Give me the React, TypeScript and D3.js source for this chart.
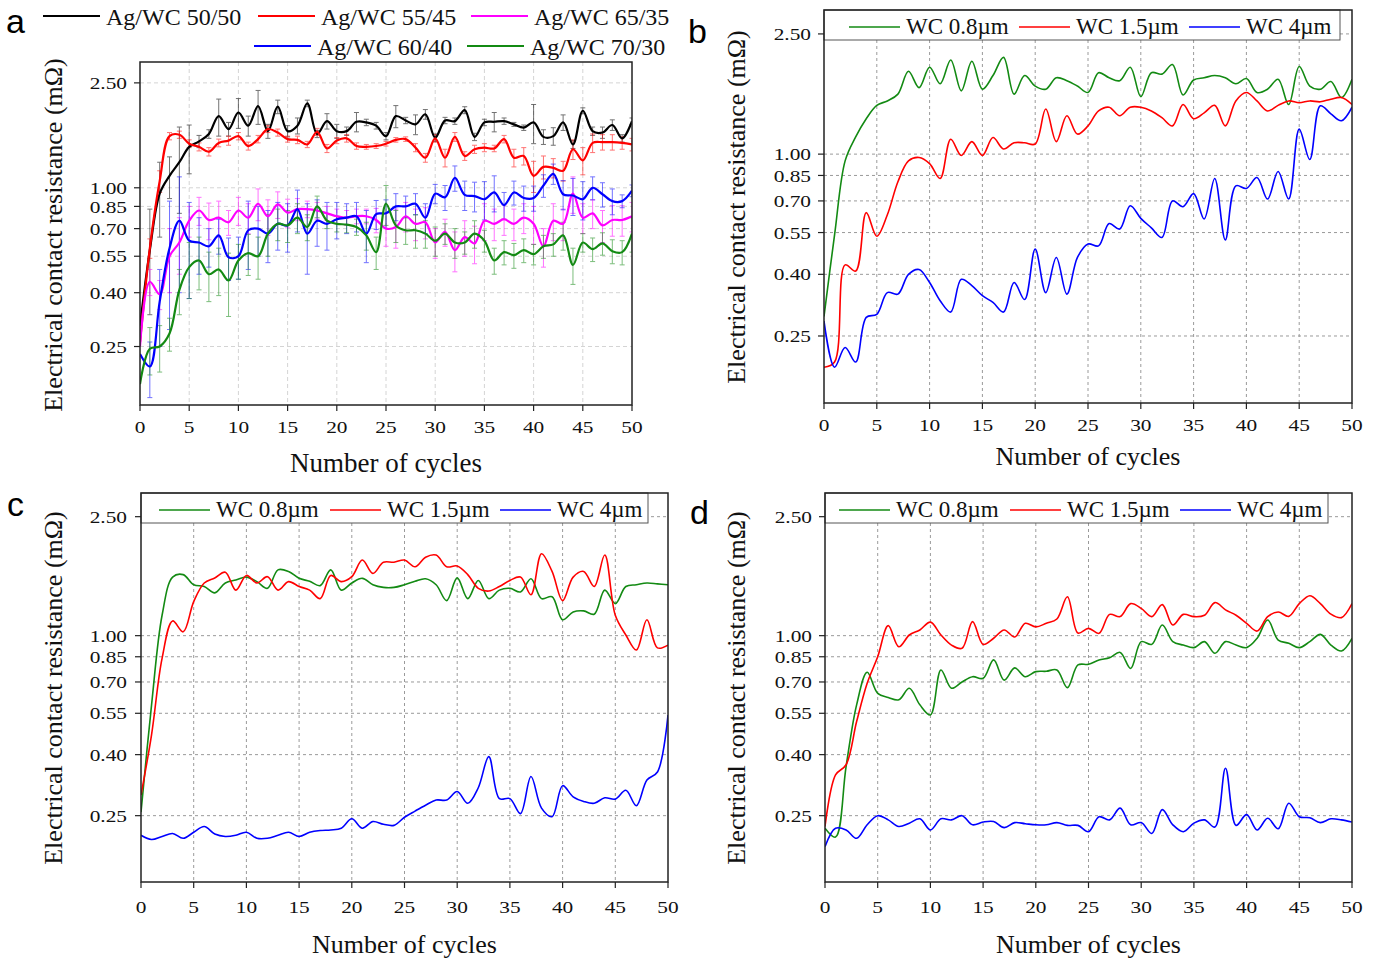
import React from 'react';
import * as d3 from 'd3';

// ---------------- data ----------------
const cycles: number[] = d3.range(0, 51);
const xTickValues = [0, 5, 10, 15, 20, 25, 30, 35, 40, 45, 50];
const yTickValues = [0.25, 0.4, 0.55, 0.7, 0.85, 1.0, 2.5];
const yDomain: [number, number] = [0.15, 3.0];
const xDomain: [number, number] = [0, 50];

const legendA = ['Ag/WC 50/50', 'Ag/WC 55/45', 'Ag/WC 65/35', 'Ag/WC 60/40', 'Ag/WC 70/30'];
const legendWC = ['WC 0.8µm', 'WC 1.5µm', 'WC 4µm'];
const xTitle = 'Number of cycles';
const yTitle = 'Electrical contact resistance (mΩ)';

// Panel a
const a5050 = [0.30, 0.58, 0.95, 1.11, 1.25, 1.43, 1.50, 1.60, 1.87, 1.67, 1.93, 1.72, 2.04, 1.64, 2.03, 1.64, 1.72, 2.09, 1.60, 1.79, 1.64, 1.64, 1.78, 1.77, 1.72, 1.57, 1.87, 1.80, 1.74, 1.90, 1.55, 1.80, 1.79, 1.97, 1.56, 1.77, 1.78, 1.79, 1.74, 1.69, 1.77, 1.56, 1.57, 1.77, 1.46, 1.96, 1.64, 1.62, 1.73, 1.54, 1.79];
const a5050Err = [0, 0.25, 0.3, 0.2, 0.45, 0.3, 0.08, 0.06, 0.3, 0.1, 0.25, 0.15, 0.3, 0.1, 0.12, 0.08, 0.12, 0.06, 0.05, 0.12, 0.1, 0.06, 0.15, 0.05, 0.05, 0.05, 0.18, 0.05, 0.15, 0.08, 0.05, 0.05, 0.05, 0.06, 0.05, 0.05, 0.15, 0.05, 0.03, 0.04, 0.3, 0.1, 0.12, 0.12, 0.05, 0.05, 0.06, 0.08, 0.08, 0.05, 0.05];
const a5545 = [0.26, 0.59, 1.06, 1.57, 1.59, 1.47, 1.43, 1.37, 1.48, 1.51, 1.57, 1.44, 1.53, 1.67, 1.62, 1.53, 1.52, 1.46, 1.63, 1.41, 1.51, 1.54, 1.44, 1.43, 1.44, 1.47, 1.52, 1.53, 1.42, 1.30, 1.54, 1.30, 1.56, 1.32, 1.40, 1.42, 1.41, 1.53, 1.30, 1.32, 1.11, 1.20, 1.19, 1.16, 1.40, 1.27, 1.48, 1.49, 1.49, 1.48, 1.46];
const a5545Err = [0, 0.05, 0.1, 0.05, 0.05, 0.05, 0.05, 0.05, 0.05, 0.06, 0.05, 0.05, 0.05, 0.05, 0.05, 0.04, 0.05, 0.04, 0.05, 0.05, 0.04, 0.05, 0.04, 0.03, 0.03, 0.03, 0.03, 0.03, 0.05, 0.05, 0.05, 0.1, 0.06, 0.05, 0.05, 0.05, 0.04, 0.05, 0.1, 0.1, 0.15, 0.12, 0.1, 0.1, 0.12, 0.15, 0.12, 0.1, 0.1, 0.08, 0.08];
const a6535 = [0.25, 0.44, 0.395, 0.55, 0.62, 0.75, 0.82, 0.755, 0.77, 0.74, 0.82, 0.77, 0.87, 0.78, 0.865, 0.805, 0.83, 0.83, 0.82, 0.80, 0.78, 0.77, 0.78, 0.78, 0.755, 0.70, 0.71, 0.78, 0.73, 0.74, 0.62, 0.68, 0.58, 0.65, 0.615, 0.75, 0.73, 0.76, 0.73, 0.77, 0.73, 0.60, 0.75, 0.73, 0.95, 0.77, 0.80, 0.72, 0.755, 0.755, 0.78];
const a6535Err = [0, 0.05, 0.05, 0.15, 0.15, 0.1, 0.1, 0.12, 0.12, 0.08, 0.1, 0.1, 0.12, 0.12, 0.1, 0.1, 0.08, 0.06, 0.06, 0.05, 0.05, 0.05, 0.05, 0.05, 0.08, 0.1, 0.12, 0.1, 0.1, 0.1, 0.08, 0.08, 0.1, 0.1, 0.1, 0.12, 0.1, 0.1, 0.1, 0.1, 0.12, 0.1, 0.12, 0.1, 0.15, 0.1, 0.1, 0.1, 0.1, 0.1, 0.1];
const a6040 = [0.234, 0.21, 0.37, 0.59, 0.75, 0.63, 0.62, 0.60, 0.66, 0.545, 0.55, 0.69, 0.70, 0.67, 0.73, 0.72, 0.83, 0.67, 0.75, 0.73, 0.76, 0.77, 0.78, 0.67, 0.795, 0.80, 0.85, 0.85, 0.87, 0.77, 0.95, 0.92, 1.09, 0.94, 0.93, 0.905, 0.96, 0.86, 0.96, 0.915, 0.915, 1.02, 1.13, 0.945, 0.935, 0.905, 1.00, 0.945, 0.89, 0.89, 0.975];
const a6040Err = [0, 0.05, 0.12, 0.3, 0.35, 0.25, 0.15, 0.1, 0.1, 0.1, 0.1, 0.2, 0.15, 0.15, 0.15, 0.15, 0.15, 0.2, 0.15, 0.15, 0.12, 0.1, 0.1, 0.15, 0.1, 0.1, 0.1, 0.08, 0.08, 0.1, 0.08, 0.1, 0.12, 0.12, 0.12, 0.15, 0.15, 0.1, 0.1, 0.1, 0.1, 0.1, 0.1, 0.12, 0.15, 0.15, 0.1, 0.1, 0.1, 0.05, 0.05];
const a7030 = [0.18, 0.245, 0.25, 0.28, 0.41, 0.50, 0.53, 0.47, 0.49, 0.445, 0.53, 0.565, 0.55, 0.67, 0.73, 0.72, 0.77, 0.71, 0.85, 0.75, 0.73, 0.725, 0.71, 0.66, 0.57, 0.87, 0.72, 0.69, 0.69, 0.67, 0.63, 0.67, 0.62, 0.62, 0.67, 0.63, 0.53, 0.57, 0.555, 0.58, 0.56, 0.60, 0.61, 0.66, 0.51, 0.62, 0.585, 0.615, 0.575, 0.57, 0.67];
const a7030Err = [0, 0.05, 0.05, 0.04, 0.08, 0.12, 0.12, 0.1, 0.1, 0.12, 0.08, 0.1, 0.1, 0.12, 0.1, 0.1, 0.1, 0.08, 0.08, 0.05, 0.05, 0.05, 0.05, 0.08, 0.08, 0.15, 0.1, 0.08, 0.1, 0.08, 0.08, 0.06, 0.08, 0.06, 0.08, 0.06, 0.06, 0.06, 0.06, 0.06, 0.05, 0.06, 0.06, 0.08, 0.08, 0.05, 0.06, 0.06, 0.06, 0.06, 0.1];

// Panel b
const bWC08 = [0.29, 0.54, 0.95, 1.14, 1.31, 1.45, 1.50, 1.58, 1.88, 1.66, 1.94, 1.71, 2.05, 1.62, 2.03, 1.64, 1.82, 2.09, 1.58, 1.82, 1.68, 1.64, 1.79, 1.75, 1.68, 1.60, 1.86, 1.79, 1.75, 1.94, 1.55, 1.86, 1.84, 1.98, 1.57, 1.76, 1.79, 1.82, 1.79, 1.71, 1.78, 1.60, 1.64, 1.77, 1.46, 1.95, 1.68, 1.64, 1.74, 1.54, 1.77];
const bWC15 = [0.197, 0.205, 0.43, 0.41, 0.64, 0.535, 0.63, 0.81, 0.95, 0.975, 0.93, 0.83, 1.12, 0.99, 1.10, 0.99, 1.135, 1.04, 1.09, 1.09, 1.08, 1.41, 1.10, 1.34, 1.165, 1.24, 1.39, 1.43, 1.34, 1.43, 1.43, 1.39, 1.32, 1.24, 1.46, 1.31, 1.37, 1.45, 1.24, 1.50, 1.60, 1.50, 1.39, 1.45, 1.50, 1.48, 1.50, 1.49, 1.52, 1.54, 1.46];
const bWC4 = [0.28, 0.197, 0.229, 0.205, 0.288, 0.295, 0.348, 0.344, 0.40, 0.415, 0.376, 0.327, 0.30, 0.385, 0.367, 0.34, 0.323, 0.30, 0.376, 0.33, 0.485, 0.348, 0.455, 0.344, 0.455, 0.504, 0.497, 0.589, 0.565, 0.675, 0.613, 0.57, 0.53, 0.70, 0.67, 0.74, 0.61, 0.83, 0.52, 0.785, 0.77, 0.837, 0.71, 0.876, 0.71, 1.21, 0.96, 1.445, 1.36, 1.29, 1.43];

// Panel c
const cWC08 = [0.257, 0.586, 1.17, 1.57, 1.60, 1.48, 1.46, 1.39, 1.50, 1.535, 1.57, 1.516, 1.44, 1.66, 1.64, 1.555, 1.52, 1.47, 1.66, 1.42, 1.50, 1.555, 1.48, 1.45, 1.45, 1.48, 1.52, 1.55, 1.48, 1.31, 1.56, 1.33, 1.53, 1.33, 1.42, 1.44, 1.40, 1.55, 1.33, 1.35, 1.13, 1.20, 1.21, 1.18, 1.42, 1.28, 1.46, 1.48, 1.50, 1.49, 1.48];
const cWC15 = [0.293, 0.466, 0.84, 1.12, 1.03, 1.30, 1.50, 1.56, 1.63, 1.42, 1.59, 1.50, 1.575, 1.42, 1.516, 1.46, 1.42, 1.33, 1.59, 1.516, 1.575, 1.79, 1.615, 1.76, 1.76, 1.79, 1.70, 1.83, 1.86, 1.70, 1.71, 1.60, 1.44, 1.41, 1.46, 1.53, 1.57, 1.37, 1.88, 1.64, 1.31, 1.57, 1.64, 1.46, 1.86, 1.17, 1.005, 0.895, 1.13, 0.91, 0.93];
const cWC4 = [0.215, 0.208, 0.213, 0.218, 0.21, 0.22, 0.23, 0.217, 0.213, 0.215, 0.22, 0.21, 0.21, 0.215, 0.22, 0.213, 0.22, 0.223, 0.224, 0.227, 0.244, 0.227, 0.239, 0.234, 0.232, 0.247, 0.259, 0.271, 0.282, 0.282, 0.301, 0.275, 0.31, 0.394, 0.285, 0.285, 0.254, 0.338, 0.265, 0.248, 0.315, 0.289, 0.279, 0.275, 0.287, 0.284, 0.304, 0.27, 0.329, 0.35, 0.543];

// Panel d
const dWC08 = [0.227, 0.212, 0.365, 0.587, 0.754, 0.641, 0.621, 0.61, 0.667, 0.587, 0.543, 0.768, 0.667, 0.70, 0.729, 0.72, 0.83, 0.71, 0.78, 0.729, 0.758, 0.76, 0.768, 0.67, 0.798, 0.802, 0.829, 0.844, 0.879, 0.777, 0.955, 0.935, 1.085, 0.955, 0.93, 0.912, 0.955, 0.873, 0.955, 0.93, 0.912, 0.98, 1.128, 0.967, 0.943, 0.912, 0.955, 1.01, 0.93, 0.889, 0.98];
const dWC15 = [0.23, 0.342, 0.37, 0.516, 0.693, 0.85, 1.08, 0.918, 1.005, 1.045, 1.11, 1.005, 0.93, 0.907, 1.114, 0.935, 0.98, 1.045, 0.99, 1.10, 1.07, 1.10, 1.137, 1.35, 1.02, 1.058, 1.018, 1.178, 1.158, 1.28, 1.234, 1.158, 1.27, 1.085, 1.178, 1.158, 1.17, 1.29, 1.22, 1.17, 1.10, 1.036, 1.158, 1.20, 1.16, 1.28, 1.36, 1.28, 1.18, 1.149, 1.28];
const dWC4 = [0.197, 0.227, 0.224, 0.21, 0.233, 0.25, 0.242, 0.23, 0.236, 0.244, 0.224, 0.244, 0.242, 0.25, 0.233, 0.238, 0.239, 0.228, 0.237, 0.235, 0.233, 0.233, 0.237, 0.232, 0.232, 0.221, 0.248, 0.242, 0.265, 0.233, 0.237, 0.218, 0.262, 0.233, 0.221, 0.236, 0.242, 0.229, 0.36, 0.232, 0.252, 0.224, 0.245, 0.226, 0.275, 0.248, 0.246, 0.237, 0.244, 0.242, 0.238];

// ---------------- styles ----------------
const SERIF = '"Liberation Serif", "Times New Roman", Times, serif';
const SANS = '"Liberation Sans", Arial, Helvetica, sans-serif';
const GREEN = '#138a13';
const RED = '#ff0000';
const BLUE = '#0000ff';
const MAGENTA = '#ff00ff';
const BLACK = '#000000';
const TICK_FONT = 17.5;
const TICK_STRETCH = 1.22;

type SeriesDef = { label: string; color: string; values: number[]; errors?: number[] };
type LegendPos = { x: number; y: number };
type PanelDef = {
  id: string;
  letter: string;
  letterX: number;
  letterY: number;
  left: number;
  right: number;
  top: number;
  bottom: number;
  series: SeriesDef[];
  lineWidth: number;
  gridColor: string;
  gridDash: string;
  yLabelRight: number;
  xLabelBaseline: number;
  xTitleBaseline: number;
  xTitleSize: number;
  yTitleX: number;
  yTitleCenter: number;
  legendInside: boolean;
  legendWidth?: number;
  legendOffsets?: number[];
  legendOutside?: LegendPos[];
  legendSize: number;
};

const panels: PanelDef[] = [
  {
    id: 'a', letter: 'a', letterX: 6, letterY: 33,
    left: 140, right: 632, top: 62, bottom: 405,
    series: [
      { label: legendA[0], color: BLACK, values: a5050, errors: a5050Err },
      { label: legendA[1], color: RED, values: a5545, errors: a5545Err },
      { label: legendA[2], color: MAGENTA, values: a6535, errors: a6535Err },
      { label: legendA[3], color: BLUE, values: a6040, errors: a6040Err },
      { label: legendA[4], color: GREEN, values: a7030, errors: a7030Err },
    ],
    lineWidth: 2.2, gridColor: '#d4d4d4', gridDash: '4,3',
    yLabelRight: 127, xLabelBaseline: 433, xTitleBaseline: 472, xTitleSize: 27,
    yTitleX: 62, yTitleCenter: 235,
    legendInside: false,
    legendOutside: [
      { x: 43, y: 16 }, { x: 258, y: 16 }, { x: 471, y: 16 },
      { x: 254, y: 46 }, { x: 467, y: 46 },
    ],
    legendSize: 24,
  },
  {
    id: 'b', letter: 'b', letterX: 688, letterY: 43,
    left: 824, right: 1352, top: 10, bottom: 403,
    series: [
      { label: legendWC[0], color: GREEN, values: bWC08 },
      { label: legendWC[1], color: RED, values: bWC15 },
      { label: legendWC[2], color: BLUE, values: bWC4 },
    ],
    lineWidth: 1.6, gridColor: '#9a9a9a', gridDash: '3,3',
    yLabelRight: 811, xLabelBaseline: 431, xTitleBaseline: 465, xTitleSize: 26,
    yTitleX: 745, yTitleCenter: 207,
    legendInside: true, legendWidth: 516, legendOffsets: [25, 195, 365],
    legendSize: 23,
  },
  {
    id: 'c', letter: 'c', letterX: 7, letterY: 516,
    left: 141, right: 668, top: 493, bottom: 882,
    series: [
      { label: legendWC[0], color: GREEN, values: cWC08 },
      { label: legendWC[1], color: RED, values: cWC15 },
      { label: legendWC[2], color: BLUE, values: cWC4 },
    ],
    lineWidth: 1.6, gridColor: '#9a9a9a', gridDash: '3,3',
    yLabelRight: 127, xLabelBaseline: 913, xTitleBaseline: 953, xTitleSize: 26,
    yTitleX: 62, yTitleCenter: 688,
    legendInside: true, legendWidth: 507, legendOffsets: [18, 189, 359],
    legendSize: 23,
  },
  {
    id: 'd', letter: 'd', letterX: 690, letterY: 524,
    left: 825, right: 1352, top: 493, bottom: 882,
    series: [
      { label: legendWC[0], color: GREEN, values: dWC08 },
      { label: legendWC[1], color: RED, values: dWC15 },
      { label: legendWC[2], color: BLUE, values: dWC4 },
    ],
    lineWidth: 1.6, gridColor: '#9a9a9a', gridDash: '3,3',
    yLabelRight: 812, xLabelBaseline: 913, xTitleBaseline: 953, xTitleSize: 26,
    yTitleX: 745, yTitleCenter: 688,
    legendInside: true, legendWidth: 503, legendOffsets: [14, 185, 355],
    legendSize: 23,
  },
];

const fmtY = (v: number) => v.toFixed(2);

function TickText({ x, y, anchor, dy, children }: { x: number; y: number; anchor: string; dy?: string; children: React.ReactNode }) {
  return (
    <g transform={`translate(${x},${y}) scale(${TICK_STRETCH},1)`}>
      <text x={0} y={0} dy={dy} textAnchor={anchor} fontFamily={SERIF} fontSize={TICK_FONT} fill="#111">
        {children}
      </text>
    </g>
  );
}

function Panel({ p }: { p: PanelDef }) {
  const x = d3.scaleLinear().domain(xDomain).range([p.left, p.right]);
  const y = d3.scaleLog().domain(yDomain).range([p.bottom, p.top]);
  const line = d3
    .line<number>()
    .x((_, i) => x(cycles[i]))
    .y((v) => y(v))
    .curve(d3.curveCatmullRom.alpha(0.5));
  const clipId = `clip-${p.id}`;
  const tickLen = 6;
  const legendH = 30;

  return (
    <g>
      <defs>
        <clipPath id={clipId}>
          <rect x={p.left} y={p.top} width={p.right - p.left} height={p.bottom - p.top} />
        </clipPath>
      </defs>

      {/* grid */}
      <g stroke={p.gridColor} strokeWidth={1} strokeDasharray={p.gridDash}>
        {xTickValues
          .filter((t) => t !== xDomain[0] && t !== xDomain[1])
          .map((t) => (
            <line key={`gx${t}`} x1={x(t)} x2={x(t)} y1={p.top} y2={p.bottom} />
          ))}
        {yTickValues.map((t) => (
          <line key={`gy${t}`} x1={p.left} x2={p.right} y1={y(t)} y2={y(t)} />
        ))}
      </g>

      {/* error bars */}
      <g clipPath={`url(#${clipId})`}>
        {p.series.map((s) =>
          s.errors
            ? s.values.map((v, i) => {
                const e = s.errors![i];
                if (!e) return null;
                const cx = x(cycles[i]);
                const y1 = y(Math.max(v - e, 0.151));
                const y2 = y(v + e);
                return (
                  <g key={`${s.label}-e${i}`} stroke={s.color} strokeWidth={1} opacity={0.55}>
                    <line x1={cx} x2={cx} y1={y1} y2={y2} />
                    <line x1={cx - 2.5} x2={cx + 2.5} y1={y1} y2={y1} />
                    <line x1={cx - 2.5} x2={cx + 2.5} y1={y2} y2={y2} />
                  </g>
                );
              })
            : null
        )}
      </g>

      {/* lines */}
      <g clipPath={`url(#${clipId})`}>
        {p.series.map((s) => (
          <path key={s.label} d={line(s.values) || ''} fill="none" stroke={s.color} strokeWidth={p.lineWidth} strokeLinejoin="round" />
        ))}
      </g>

      {/* inside legend */}
      {p.legendInside && (
        <g>
          <rect x={p.left} y={p.top} width={p.legendWidth} height={legendH} fill="#fff" stroke="#555" strokeWidth={1} />
          {p.series.map((s, i) => {
            const lx = p.left + (p.legendOffsets as number[])[i];
            return (
              <g key={`lg${i}`}>
                <line x1={lx} x2={lx + 51} y1={p.top + 17} y2={p.top + 17} stroke={s.color} strokeWidth={1.6} />
                <text x={lx + 57} y={p.top + 24} fontFamily={SERIF} fontSize={p.legendSize} fill="#111">
                  {s.label}
                </text>
              </g>
            );
          })}
        </g>
      )}

      {/* frame */}
      <rect x={p.left} y={p.top} width={p.right - p.left} height={p.bottom - p.top} fill="none" stroke="#222" strokeWidth={1.5} />

      {/* y axis ticks */}
      <g>
        {yTickValues.map((t) => (
          <g key={`yt${t}`}>
            <line x1={p.left - tickLen} x2={p.left} y1={y(t)} y2={y(t)} stroke="#222" strokeWidth={1.2} />
            <TickText x={p.yLabelRight} y={y(t)} anchor="end" dy="0.35em">
              {fmtY(t)}
            </TickText>
          </g>
        ))}
      </g>

      {/* x axis ticks */}
      <g>
        {xTickValues.map((t) => (
          <g key={`xt${t}`}>
            <line x1={x(t)} x2={x(t)} y1={p.bottom} y2={p.bottom + tickLen} stroke="#222" strokeWidth={1.2} />
            <TickText x={x(t)} y={p.xLabelBaseline} anchor="middle">
              {t}
            </TickText>
          </g>
        ))}
      </g>

      {/* titles */}
      <text x={(p.left + p.right) / 2} y={p.xTitleBaseline} textAnchor="middle" fontFamily={SERIF} fontSize={p.xTitleSize} fill="#111">
        {xTitle}
      </text>
      <text
        transform={`translate(${p.yTitleX},${p.yTitleCenter}) rotate(-90)`}
        textAnchor="middle"
        fontFamily={SERIF}
        fontSize={26}
        fill="#111"
      >
        {yTitle}
      </text>

      {/* panel letter */}
      <text x={p.letterX} y={p.letterY} fontFamily={SANS} fontSize={34} fill="#000">
        {p.letter}
      </text>

      {/* outside legend */}
      {!p.legendInside && p.legendOutside && (
        <g>
          {p.series.map((s, i) => {
            const pos = p.legendOutside![i];
            return (
              <g key={`lo${i}`}>
                <line x1={pos.x} x2={pos.x + 57} y1={pos.y} y2={pos.y} stroke={s.color} strokeWidth={2} />
                <text x={pos.x + 63} y={pos.y + 9} fontFamily={SERIF} fontSize={p.legendSize} fill="#111">
                  {s.label}
                </text>
              </g>
            );
          })}
        </g>
      )}
    </g>
  );
}

export default function App() {
  return (
    <svg
      width={1376}
      height={960}
      viewBox="0 0 1376 960"
      style={{ position: 'absolute', left: 0, top: 0, background: '#fff' }}
    >
      <rect x={0} y={0} width={1376} height={960} fill="#fff" />
      {panels.map((p) => (
        <Panel key={p.id} p={p} />
      ))}
    </svg>
  );
}
